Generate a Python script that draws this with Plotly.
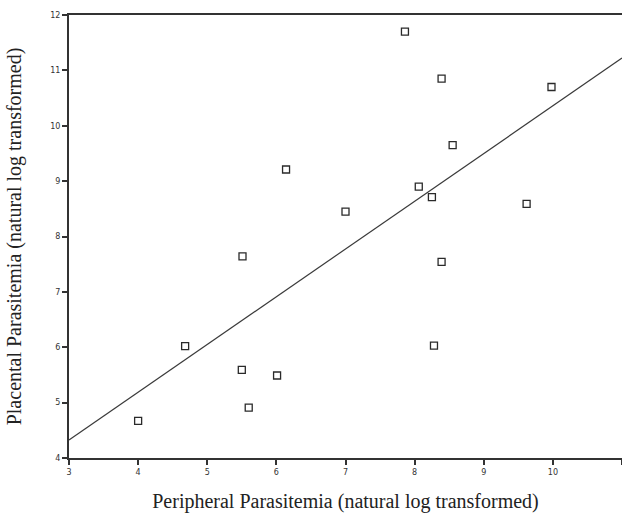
import plotly.graph_objects as go

# Data
peripheral = [4.00, 4.68, 5.51, 5.50, 5.60, 6.01, 6.14, 7.00, 7.86, 8.39,
              8.06, 8.25, 8.55, 9.98, 9.62, 8.39, 8.28]
placental = [4.67, 6.02, 7.64, 5.59, 4.91, 5.49, 9.21, 8.45, 11.70, 10.85,
             8.90, 8.71, 9.65, 10.70, 8.59, 7.54, 6.03]

fit_slope = 0.862
fit_intercept = 1.74
fit_x = [3, 11]
fit_y = [fit_intercept + fit_slope * v for v in fit_x]

x_ticks = [3, 4, 5, 6, 7, 8, 9, 10, 11]
y_ticks = [4, 5, 6, 7, 8, 9, 10, 11, 12]

fig = go.Figure()
fig.add_trace(go.Scatter(
    x=fit_x, y=fit_y, mode="lines",
    line=dict(color="#3a3a3a", width=1.2),
    showlegend=False, hoverinfo="skip",
))
fig.add_trace(go.Scatter(
    x=peripheral, y=placental, mode="markers",
    marker=dict(symbol="square-open", size=7, color="#2a2a2a",
                line=dict(width=1.3, color="#2a2a2a")),
    showlegend=False,
))

axis_font = dict(family="DejaVu Sans", size=8, color="#333333")
title_font = dict(family="Liberation Serif", size=20, color="#222222")

fig.update_layout(
    width=622, height=532,
    margin=dict(l=69, r=0, t=15, b=74),
    paper_bgcolor="white", plot_bgcolor="white",
    xaxis=dict(
        range=[3, 11], tickvals=x_ticks, ticktext=[str(v) for v in x_ticks],
        showgrid=False, zeroline=False,
        showline=True, linecolor="#333333", linewidth=2, mirror=True,
        ticks="outside", ticklen=5, tickwidth=1.5, tickcolor="#333333",
        tickfont=axis_font,
        title=dict(text="Peripheral Parasitemia (natural log transformed)",
                   font=title_font, standoff=18),
    ),
    yaxis=dict(
        range=[4, 12], tickvals=y_ticks, ticktext=[str(v) for v in y_ticks],
        showgrid=False, zeroline=False,
        showline=True, linecolor="#333333", linewidth=2,
        ticks="outside", ticklen=5, tickwidth=1.5, tickcolor="#333333",
        tickfont=axis_font,
        title=dict(text="Placental Parasitemia (natural log transformed)",
                   font=title_font, standoff=23),
    ),
)

fig.write_html("out.html")
